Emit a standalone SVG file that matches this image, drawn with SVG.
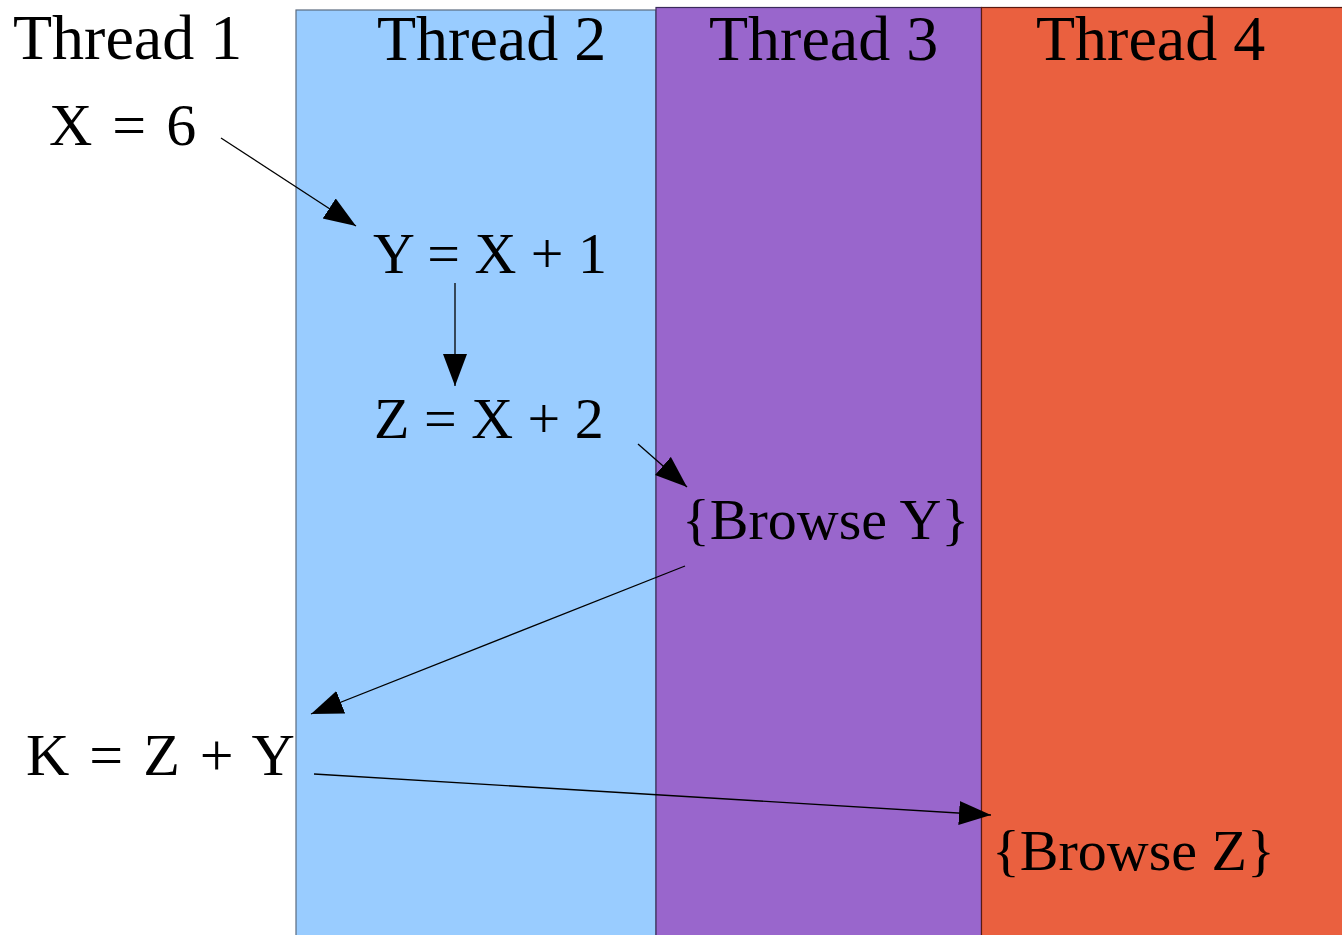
<svg xmlns="http://www.w3.org/2000/svg" width="1342" height="935" viewBox="0 0 1342 935">
  <style>
    .t { font-family: "Liberation Serif", "Times New Roman", serif; fill: #000; }
    .h { font-size: 64px; }
    .e { font-size: 60px; word-spacing: 5px; }
    .b { font-size: 58px; }
    .c { stroke: #000; stroke-width: 1.3; fill: none; marker-end: url(#ah); }
  </style>
  <defs>
    <marker id="ah" markerUnits="userSpaceOnUse" markerWidth="34" markerHeight="26" refX="32" refY="12" orient="auto">
      <path d="M0,0 L32,12 L0,24 Z" fill="#000"/>
    </marker>
  </defs>
  <rect width="1342" height="935" fill="#fff"/>
  <g id="lane2">
    <rect x="296" y="10" width="360" height="940" fill="#99ccff" stroke="#5b6b7f" stroke-width="1.2"/>
  </g>
  <g id="lane3">
    <rect x="656" y="7.5" width="325.5" height="940" fill="#9966cc" stroke="#3b2b5b" stroke-width="1.2"/>
  </g>
  <g id="lane4">
    <rect x="981.5" y="7.5" width="380" height="940" fill="#ea603f" stroke="#5a1a10" stroke-width="1.2"/>
  </g>
  <g id="labels">
    <text class="t h" x="13" y="59">Thread 1</text>
    <text class="t h" x="377" y="60">Thread 2</text>
    <text class="t h" x="709" y="60">Thread 3</text>
    <text class="t h" x="1036" y="60">Thread 4</text>
  </g>
  <g id="n1"><text class="t e" x="49" y="145">X = 6</text></g>
  <g id="n2"><text class="t b" x="373" y="273">Y = X + 1</text></g>
  <g id="n3"><text class="t b" x="374" y="438">Z = X + 2</text></g>
  <g id="n4"><text class="t b" x="682" y="539">{Browse Y}</text></g>
  <g id="n5"><text class="t e" x="26" y="775">K = Z + Y</text></g>
  <g id="n6"><text class="t b" x="992" y="870">{Browse Z}</text></g>
  <g id="connectors">
    <line class="c" x1="221" y1="138" x2="356" y2="226"/>
    <line class="c" x1="455" y1="283" x2="455" y2="386"/>
    <line class="c" x1="638" y1="444" x2="687" y2="487"/>
    <line class="c" x1="685" y1="566" x2="311" y2="714"/>
    <line class="c" x1="314" y1="774" x2="991" y2="815"/>
  </g>
</svg>
